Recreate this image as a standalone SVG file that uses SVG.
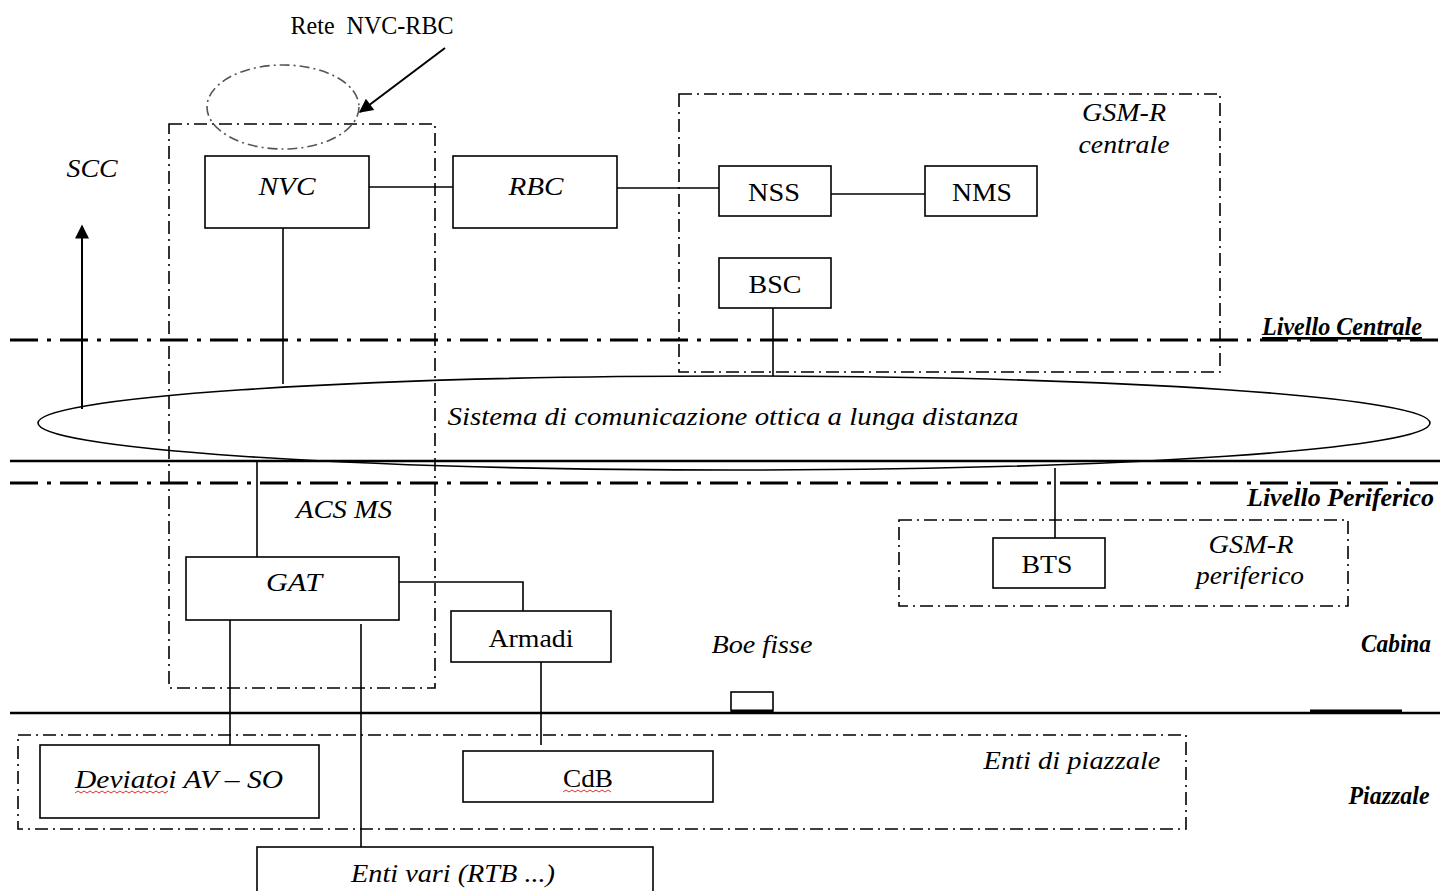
<svg xmlns="http://www.w3.org/2000/svg" width="1442" height="891" viewBox="0 0 1442 891">
<defs>
<style>
.box{fill:#fff;stroke:#000;stroke-width:1.6}
.ln{stroke:#000;stroke-width:1.6;fill:none}
.lvl{stroke:#000;stroke-width:3;stroke-dasharray:28 9 4 9;fill:none}
.sol{stroke:#000;stroke-width:2.5;fill:none}
.grp{stroke:#000;stroke-width:1.6;stroke-dasharray:13 5 2 5;fill:none}
.t{font-family:"Liberation Serif","Times New Roman",serif;font-size:26px;fill:#000;text-anchor:middle}
.i{font-style:italic}
.b{font-weight:bold}
.wav{stroke:#e03030;stroke-width:1;fill:none}
</style>
<marker id="ah2" viewBox="0 0 10 10" refX="9" refY="5" markerWidth="22" markerHeight="14" markerUnits="userSpaceOnUse" orient="auto">
<path d="M0,0 L10,5 L0,10 z" fill="#000"/>
</marker>
</defs>
<rect width="1442" height="891" fill="#fff"/>

<g id="levels">
<line class="lvl" x1="10" y1="340" x2="1440" y2="340"/>
<line class="sol" x1="10" y1="461" x2="1440" y2="461"/>
<line class="lvl" x1="10" y1="483" x2="1440" y2="483"/>
<line class="sol" x1="10" y1="713" x2="1440" y2="713"/>
<line x1="1310" y1="711" x2="1402" y2="711" stroke="#000" stroke-width="3"/>
</g>

<g id="groups">
<rect id="acs-ms" class="grp" x="169" y="124" width="266" height="564"/>
<rect id="gsmr-centrale" class="grp" x="679" y="94" width="541" height="278"/>
<rect id="gsmr-periferico" class="grp" x="899" y="520" width="449" height="86"/>
<rect id="enti-piazzale" class="grp" x="18" y="735" width="1168" height="94"/>
<ellipse id="rete-nvc-rbc" cx="283" cy="107" rx="76" ry="42" fill="none" stroke="#555" stroke-width="1.6" stroke-dasharray="10 4 2 4"/>
</g>

<g id="ellipse-sistema">
<ellipse cx="734" cy="423" rx="696" ry="47" fill="none" stroke="#000" stroke-width="1.6"/>
<text class="t i" x="733" y="425" textLength="571" lengthAdjust="spacingAndGlyphs">Sistema  di comunicazione  ottica a lunga distanza</text>
</g>

<g id="connectors">
<line class="ln" x1="369" y1="187" x2="453" y2="187"/>
<line class="ln" x1="617" y1="188" x2="719" y2="188"/>
<line class="ln" x1="831" y1="194" x2="925" y2="194"/>
<line class="ln" x1="283" y1="228" x2="283" y2="384"/>
<line class="ln" x1="773" y1="308" x2="773" y2="376"/>
<line x1="82" y1="409" x2="82" y2="226" stroke="#000" stroke-width="2" marker-end="url(#ah2)"/>
<line class="ln" x1="257" y1="461" x2="257" y2="557"/>
<line class="ln" x1="1055" y1="468" x2="1055" y2="538"/>
<polyline class="ln" points="399,582 523,582 523,611"/>
<line class="ln" x1="541" y1="662" x2="541" y2="745"/>
<line class="ln" x1="230" y1="617" x2="230" y2="745"/>
<line class="ln" x1="361" y1="624" x2="361" y2="847"/>
<line x1="445" y1="48" x2="360" y2="112" stroke="#000" stroke-width="2" marker-end="url(#ah2)"/>
</g>

<g id="node-nvc"><rect class="box" x="205" y="156" width="164" height="72"/><text class="t i" x="287" y="195" textLength="57" lengthAdjust="spacingAndGlyphs">NVC</text></g>
<g id="node-rbc"><rect class="box" x="453" y="156" width="164" height="72"/><text class="t i" x="536" y="195" textLength="55" lengthAdjust="spacingAndGlyphs">RBC</text></g>
<g id="node-nss"><rect class="box" x="719" y="166" width="112" height="50"/><text class="t" x="774" y="201" textLength="52" lengthAdjust="spacingAndGlyphs">NSS</text></g>
<g id="node-nms"><rect class="box" x="925" y="166" width="112" height="50"/><text class="t" x="982" y="201" textLength="60" lengthAdjust="spacingAndGlyphs">NMS</text></g>
<g id="node-bsc"><rect class="box" x="719" y="258" width="112" height="50"/><text class="t" x="775" y="293" textLength="53" lengthAdjust="spacingAndGlyphs">BSC</text></g>
<g id="node-bts"><rect class="box" x="993" y="538" width="112" height="50"/><text class="t" x="1047" y="573" textLength="51" lengthAdjust="spacingAndGlyphs">BTS</text></g>
<g id="node-gat"><rect class="box" x="186" y="557" width="213" height="63"/><text class="t i" x="294" y="591" textLength="56" lengthAdjust="spacingAndGlyphs">GAT</text></g>
<g id="node-armadi"><rect class="box" x="451" y="611" width="160" height="51"/><text class="t" x="531" y="647" textLength="85" lengthAdjust="spacingAndGlyphs">Armadi</text></g>
<g id="node-deviatoi"><rect class="box" x="40" y="745" width="279" height="73"/><text class="t i" x="179" y="788" textLength="208" lengthAdjust="spacingAndGlyphs">Deviatoi AV – SO</text>
<path class="wav" d="M75,793 l3,-2 l3,2 l3,-2 l3,2 l3,-2 l3,2 l3,-2 l3,2 l3,-2 l3,2 l3,-2 l3,2 l3,-2 l3,2 l3,-2 l3,2 l3,-2 l3,2 l3,-2 l3,2 l3,-2 l3,2 l3,-2 l3,2 l3,-2 l3,2 l3,-2 l3,2 l3,-2 l3,2 l3,-2"/></g>
<g id="node-cdb"><rect class="box" x="463" y="751" width="250" height="51"/><text class="t" x="588" y="787" textLength="50" lengthAdjust="spacingAndGlyphs">CdB</text>
<path class="wav" d="M563,792 l3,-2 l3,2 l3,-2 l3,2 l3,-2 l3,2 l3,-2 l3,2 l3,-2 l3,2 l3,-2 l3,2 l3,-2 l3,2 l3,-2 l3,2"/></g>
<g id="node-enti-vari"><rect class="box" x="257" y="847" width="396" height="60"/><text class="t i" x="453" y="882" textLength="204" lengthAdjust="spacingAndGlyphs">Enti vari (RTB ...)</text></g>
<g id="node-boe"><rect class="box" x="731" y="692" width="42" height="19"/><line x1="731" y1="711" x2="773" y2="711" stroke="#000" stroke-width="3"/></g>

<g id="labels">
<text class="t" x="372" y="34" font-size="22" textLength="163" lengthAdjust="spacingAndGlyphs" xml:space="preserve">Rete  NVC-RBC</text>
<text class="t i" x="92" y="177" textLength="51" lengthAdjust="spacingAndGlyphs">SCC</text>
<text class="t i" x="1124" y="121" textLength="84" lengthAdjust="spacingAndGlyphs">GSM-R</text>
<text class="t i" x="1124" y="153" textLength="91" lengthAdjust="spacingAndGlyphs">centrale</text>
<text class="t i b" x="1342" y="335" font-size="23" text-decoration="underline" textLength="160" lengthAdjust="spacingAndGlyphs">Livello  Centrale</text>
<text class="t i" x="344" y="518" textLength="96" lengthAdjust="spacingAndGlyphs">ACS MS</text>
<text class="t i b" x="1434" y="506" font-size="22" style="text-anchor:end">Livello Periferico</text>
<text class="t i" x="1251" y="553" textLength="85" lengthAdjust="spacingAndGlyphs">GSM-R</text>
<text class="t i" x="1250" y="584" textLength="108" lengthAdjust="spacingAndGlyphs">periferico</text>
<text class="t i" x="762" y="653" textLength="101" lengthAdjust="spacingAndGlyphs">Boe fisse</text>
<text class="t i b" x="1396" y="652" font-size="23" textLength="70" lengthAdjust="spacingAndGlyphs">Cabina</text>
<text class="t i" x="1072" y="769" textLength="177" lengthAdjust="spacingAndGlyphs">Enti di piazzale</text>
<text class="t i b" x="1389" y="804" font-size="23" textLength="81" lengthAdjust="spacingAndGlyphs">Piazzale</text>
</g>
</svg>
